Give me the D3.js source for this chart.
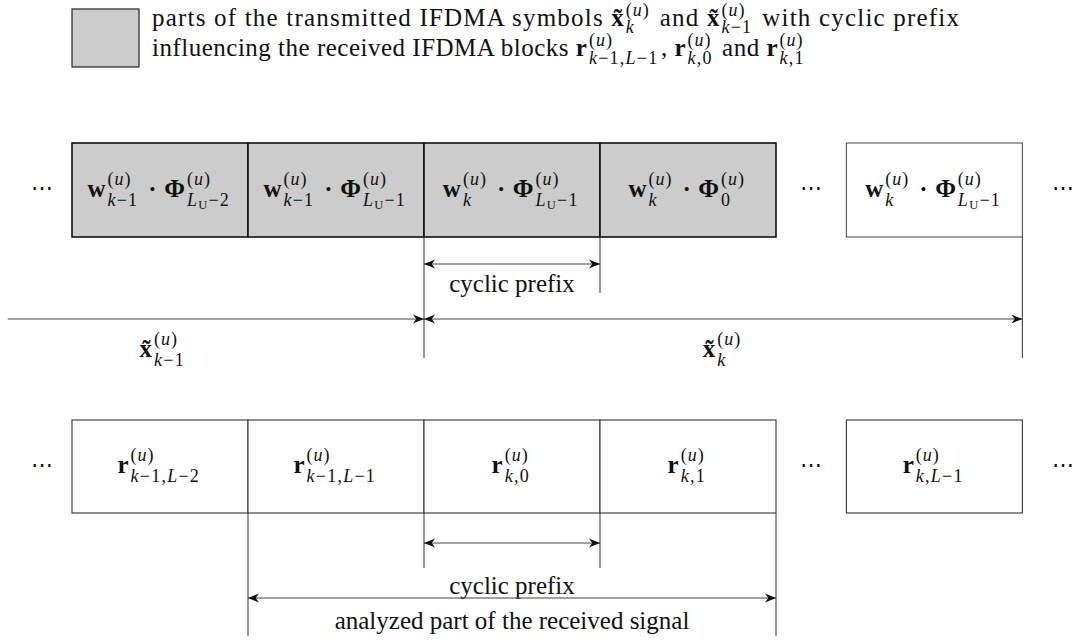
<!DOCTYPE html>
<html>
<head>
<meta charset="utf-8">
<script src="https://cdn.jsdelivr.net/npm/d3@7"></script>
<style>
body { margin: 0; background: #fff; }
text { font-family: "Liberation Serif", "DejaVu Serif", serif; fill: #111; }
</style>
</head>
<body>
<div id="div"></div>
<script>
let w = 1077, h = 642

// block positions in block units (each block is 1 unit wide)
let blockStarts = [0, 1, 2, 3, 4.4]
let topShaded = [true, true, true, true, false]

// labels: {b: bold base, sub: [[text, kind]]}, kind i = italic, s = sub-subscript; every base has sup (u)
let topLabels = [
	[{b: "w", sub: [["k", "i"], ["−1"]]}, {op: "·"}, {b: "Φ", sub: [["L", "i"], ["U", "s"], ["−2"]]}],
	[{b: "w", sub: [["k", "i"], ["−1"]]}, {op: "·"}, {b: "Φ", sub: [["L", "i"], ["U", "s"], ["−1"]]}],
	[{b: "w", sub: [["k", "i"]]}, {op: "·"}, {b: "Φ", sub: [["L", "i"], ["U", "s"], ["−1"]]}],
	[{b: "w", sub: [["k", "i"]]}, {op: "·"}, {b: "Φ", sub: [["0"]]}],
	[{b: "w", sub: [["k", "i"]]}, {op: "·"}, {b: "Φ", sub: [["L", "i"], ["U", "s"], ["−1"]]}]
]
let bottomLabels = [
	[{b: "r", sub: [["k", "i"], ["−1,"], ["L", "i"], ["−2"]]}],
	[{b: "r", sub: [["k", "i"], ["−1,"], ["L", "i"], ["−1"]]}],
	[{b: "r", sub: [["k", "i"], [",0"]]}],
	[{b: "r", sub: [["k", "i"], [",1"]]}],
	[{b: "r", sub: [["k", "i"], [","], ["L", "i"], ["−1"]]}]
]
let dotsAt = [-0.17, 4.2, 5.63]

// spans: [from, to] in block units
let cyclicSpan = [2, 3]
let symbolPrevSpan = [-0.365, 2]
let symbolCurSpan = [2, 5.4]
let analyzedSpan = [1, 4]

let legendLine1 = [{t: "parts of the transmitted IFDMA symbols "}, {b: "x̃", sub: [["k", "i"]]},
	{t: " and "}, {b: "x̃", sub: [["k", "i"], ["−1"]]}, {t: " with cyclic prefix"}]
let legendLine2 = [{t: "influencing the received IFDMA blocks "}, {b: "r", sub: [["k", "i"], ["−1,"], ["L", "i"], ["−1"]]},
	{t: ", "}, {b: "r", sub: [["k", "i"], [",0"]]}, {t: " and "}, {b: "r", sub: [["k", "i"], [",1"]]}]

let svg = d3.select("#div").append("svg")
	.attr("width", w)
	.attr("height", h)

let x = d3.scaleLinear().domain([0, 5.4]).range([72, 72 + 5.4 * 176])

let topRow = {y0: 143, y1: 237}, bottomRow = {y0: 420, y1: 513}

svg.append("defs").append("marker")
	.attr("id", "arr")
	.attr("viewBox", "0 0 10 10")
	.attr("refX", 10).attr("refY", 5)
	.attr("markerWidth", 11).attr("markerHeight", 11)
	.attr("markerUnits", "userSpaceOnUse")
	.attr("orient", "auto-start-reverse")
	.append("path")
	.attr("d", "M0,1 L10,5 L0,9 L3,5 Z")
	.attr("fill", "#111")

// draws a math/text expression into g, baseline at 0, starting at x = 0
function drawMath(g, tokens, fs, ls = 0, supY = 0.47, subY = 0.36) {
	let cx = 0, s = fs * 0.72
	tokens.forEach(tk => {
		if (tk.t !== undefined) {
			let t = g.append("text").attr("x", cx).attr("font-size", fs)
				.attr("letter-spacing", ls)
				.style("white-space", "pre").text(tk.t)
			cx += t.node().getComputedTextLength()
			return
		}
		if (tk.op) {
			cx += fs * 0.3
			let t = g.append("text").attr("x", cx).attr("font-size", fs).attr("font-weight", "bold").text(tk.op)
			cx += t.node().getComputedTextLength() + fs * 0.3
			return
		}
		let base = g.append("text").attr("x", cx).attr("font-size", fs).attr("font-weight", "bold").text(tk.b)
		cx += base.node().getComputedTextLength() + fs * 0.08
		let sup = g.append("text").attr("x", cx).attr("y", -fs * supY).attr("font-size", s)
			.attr("letter-spacing", fs * 0.04)
		sup.append("tspan").text("(")
		sup.append("tspan").attr("font-style", "italic").text("u")
		sup.append("tspan").text(")")
		let sub = g.append("text").attr("x", cx).attr("y", fs * subY).attr("font-size", s)
			.attr("letter-spacing", fs * 0.05)
		let lowered = false
		tk.sub.forEach(p => {
			let sp = sub.append("tspan").text(p[0])
			if (p[1] === "i") sp.attr("font-style", "italic")
			if (p[1] === "s") { sp.attr("font-size", fs * 0.5).attr("dy", 3); lowered = true }
			else if (lowered) { sp.attr("dy", -3); lowered = false }
		})
		cx += Math.max(sup.node().getComputedTextLength(), sub.node().getComputedTextLength()) + fs * 0.1
	})
	return cx
}

function centeredMath(tokens, cx, baseline, fs) {
	let g = svg.append("g")
	let width = drawMath(g, tokens, fs)
	g.attr("transform", "translate(" + (cx - width / 2) + "," + baseline + ")")
}

// Legend
svg.append("rect")
	.attr("x", 72).attr("y", 9).attr("width", 67).attr("height", 58)
	.attr("fill", "#cccccc").attr("stroke", "#222").attr("stroke-width", 1.2)
let lg1 = svg.append("g").attr("transform", "translate(152,26)")
drawMath(lg1, legendLine1, 25, 1.2, 0.42, 0.28)
let lg2 = svg.append("g").attr("transform", "translate(152,56)")
drawMath(lg2, legendLine2, 25, 0.5, 0.4, 0.3)

// Top row blocks
svg.selectAll("rect.top")
	.data(blockStarts)
	.enter()
	.append("rect")
	.attr("class", "top")
	.attr("x", d => x(d))
	.attr("y", topRow.y0)
	.attr("width", x(1) - x(0))
	.attr("height", topRow.y1 - topRow.y0)
	.attr("fill", (d, i) => topShaded[i] ? "#cccccc" : "#fff")
	.attr("stroke", (d, i) => topShaded[i] ? "#111" : "#555")
	.attr("stroke-width", (d, i) => topShaded[i] ? 1.6 : 1.1)

topLabels.forEach((lab, i) => centeredMath(lab, x(blockStarts[i] + 0.5), 197, 25))

// Bottom row blocks
svg.selectAll("rect.bottom")
	.data(blockStarts)
	.enter()
	.append("rect")
	.attr("class", "bottom")
	.attr("x", d => x(d))
	.attr("y", bottomRow.y0)
	.attr("width", x(1) - x(0))
	.attr("height", bottomRow.y1 - bottomRow.y0)
	.attr("fill", "#fff")
	.attr("stroke", "#333")
	.attr("stroke-width", 1.1)

bottomLabels.forEach((lab, i) => centeredMath(lab, x(blockStarts[i] + 0.5), 473, 25))

// dots
dotsAt.forEach(d => {
	svg.append("text").attr("x", x(d)).attr("y", topRow.y0 + 52).attr("text-anchor", "middle")
		.attr("font-size", 22).text("⋯")
	svg.append("text").attr("x", x(d)).attr("y", bottomRow.y0 + 52).attr("text-anchor", "middle")
		.attr("font-size", 22).text("⋯")
})

// helper lines
let vline = (u, y0, y1) => svg.append("line")
	.attr("x1", x(u)).attr("x2", x(u)).attr("y1", y0).attr("y2", y1)
	.attr("stroke", "#444").attr("stroke-width", 1.1)
let arrow = (span, y, both) => svg.append("line")
	.attr("x1", x(span[0])).attr("x2", x(span[1])).attr("y1", y).attr("y2", y)
	.attr("stroke", "#444").attr("stroke-width", 1.1)
	.attr("marker-end", "url(#arr)")
	.attr("marker-start", both ? "url(#arr)" : null)
let label = (txt, u, y) => svg.append("text").attr("x", x(u)).attr("y", y)
	.attr("text-anchor", "middle").attr("font-size", 25).text(txt)

// top annotations
vline(cyclicSpan[0], topRow.y1, 358)
vline(cyclicSpan[1], topRow.y1, 293)
vline(symbolCurSpan[1], topRow.y1, 358)
arrow(cyclicSpan, 264, true)
label("cyclic prefix", (cyclicSpan[0] + cyclicSpan[1]) / 2, 292)
arrow(symbolPrevSpan, 319, false)
arrow(symbolCurSpan, 319, true)
centeredMath([{b: "x̃", sub: [["k", "i"], ["−1"]]}], x(0.52), 357, 25)
centeredMath([{b: "x̃", sub: [["k", "i"]]}], x((symbolCurSpan[0] + symbolCurSpan[1]) / 2), 357, 25)

// bottom annotations
vline(cyclicSpan[0], bottomRow.y1, 568)
vline(cyclicSpan[1], bottomRow.y1, 568)
vline(analyzedSpan[0], bottomRow.y1, 636)
vline(analyzedSpan[1], bottomRow.y1, 636)
arrow(cyclicSpan, 543, true)
label("cyclic prefix", (cyclicSpan[0] + cyclicSpan[1]) / 2, 594)
arrow(analyzedSpan, 598, true)
label("analyzed part of the received signal", (analyzedSpan[0] + analyzedSpan[1]) / 2, 629)
</script>
</body>
</html>
